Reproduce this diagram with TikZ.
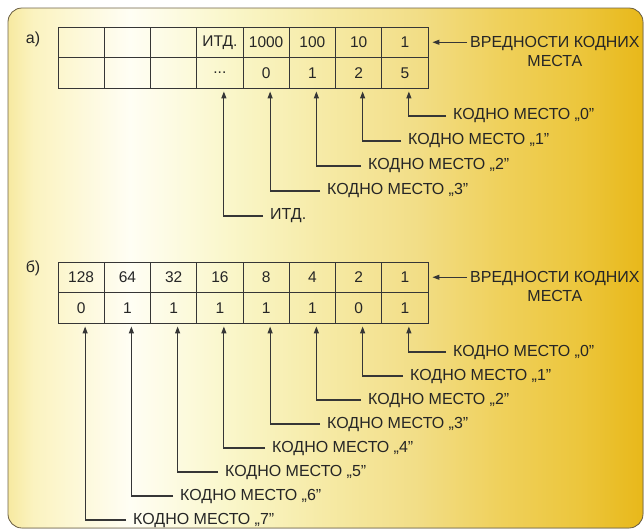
\documentclass[tikz,border=0pt]{standalone}
\usepackage{fontspec}
\setmainfont{Liberation Sans}
\usetikzlibrary{arrows.meta,positioning,calc}
\definecolor{ink}{HTML}{262626}
\definecolor{gridline}{HTML}{363636}
\definecolor{rimline}{HTML}{6E6246}
\definecolor{goldA}{HTML}{F7E9A0}
\definecolor{goldB}{HTML}{FBF3C0}
\definecolor{goldC}{HTML}{FFFEF4}
\definecolor{goldD}{HTML}{FAF7CC}
\definecolor{goldE}{HTML}{F6EAA5}
\definecolor{goldF}{HTML}{F2DE88}
\definecolor{goldG}{HTML}{EFD05A}
\definecolor{goldH}{HTML}{ECC63C}
\definecolor{goldI}{HTML}{E8B81A}
\pgfdeclarehorizontalshading{goldpanel}{100bp}{color(0bp)=(goldA); color(25bp)=(goldA);
  color(27bp)=(goldB); color(34.6bp)=(goldC); color(42bp)=(goldD); color(50bp)=(goldE);
  color(57bp)=(goldF); color(64bp)=(goldG); color(70bp)=(goldH); color(75bp)=(goldI);
  color(100bp)=(goldI)}
\newcommand\lblfont{\fontsize{16}{19}\selectfont}
\newcommand\cellfont{\fontsize{15.5}{18}\selectfont}
\tikzset{
  every node/.style={text=ink},
  cell/.style={draw=gridline, line width=0.9pt, minimum width=46.25pt, minimum height=30.5pt,
               inner sep=0pt, font=\cellfont},
  lbl/.style={font=\lblfont, anchor=west, inner sep=0pt},
  tag/.style={font=\lblfont, inner sep=0pt},
  arr/.style={-{Triangle[length=7pt, width=5pt]}, line width=1.1pt, draw=gridline},
  panel/.style={rounded corners=14pt},
}

\begin{document}
\begin{tikzpicture}[x=1pt, y=-1pt]
\useasboundingbox (0,0) rectangle (644,531);

% background panel
\fill[panel, shading=goldpanel] (8,8) rectangle (643,528);
\draw[panel, rimline, line width=0.8pt] (8,8) rectangle (643,528);

% a) decimal
\node[tag] (a-tag) at (33,39) {а)};
\foreach \i/\t in {1/,2/,3/,4/ИТД.,5/1000,6/100,7/10,8/1}
  \node[cell] (a-top-\i) at ({58+46.25*(\i-0.5)},42.25) {\t};
\foreach \i/\t in {1/,2/,3/,4/{...},5/0,6/1,7/2,8/5}
  \node[cell] (a-bot-\i) at ({58+46.25*(\i-0.5)},72.75) {\t};

\node[lbl, align=center, anchor=north west] (a-vals) at (470,36.5) {ВРЕДНОСТИ КОДНИХ\\МЕСТА};
\draw[arr] ([xshift=-3pt]a-vals.west |- a-top-8.east) -- ([xshift=4pt]a-top-8.east);

\foreach \k/\c/\x/\t in {0/8/453/{КОДНО МЕСТО „0"}, 1/7/408/{КОДНО МЕСТО „1"},
    2/6/368/{КОДНО МЕСТО „2"}, 3/5/327/{КОДНО МЕСТО „3"}, 4/4/270/{ИТД.}} {
  \node[lbl] (a-lbl-\k) at (\x,{116+25*\k}) {\t};
  \draw[arr] ([xshift=-7pt]a-lbl-\k.west) -| ([xshift=4pt,yshift=-3pt]a-bot-\c.south);
}

% b) binary
\node[tag] (b-tag) at (33,268) {б)};
\foreach \i/\t in {1/128,2/64,3/32,4/16,5/8,6/4,7/2,8/1}
  \node[cell] (b-top-\i) at ({58+46.25*(\i-0.5)},277.25) {\t};
\foreach \i/\t in {1/0,2/1,3/1,4/1,5/1,6/1,7/0,8/1}
  \node[cell] (b-bot-\i) at ({58+46.25*(\i-0.5)},307.75) {\t};

\node[lbl, align=center, anchor=north west] (b-vals) at (470,271.5) {ВРЕДНОСТИ КОДНИХ\\МЕСТА};
\draw[arr] ([xshift=-3pt]b-vals.west |- b-top-8.east) -- ([xshift=4pt]b-top-8.east);

\foreach \k/\x in {0/453, 1/410, 2/368, 3/327, 4/272, 5/225, 6/180, 7/133} {
  \pgfmathtruncatemacro\c{8-\k}
  \node[lbl] (b-lbl-\k) at (\x,{352+24*\k}) {КОДНО МЕСТО „\k"};
  \draw[arr] ([xshift=-7pt]b-lbl-\k.west) -| ([xshift=4pt,yshift=-3pt]b-bot-\c.south);
}

\end{tikzpicture}
\end{document}
